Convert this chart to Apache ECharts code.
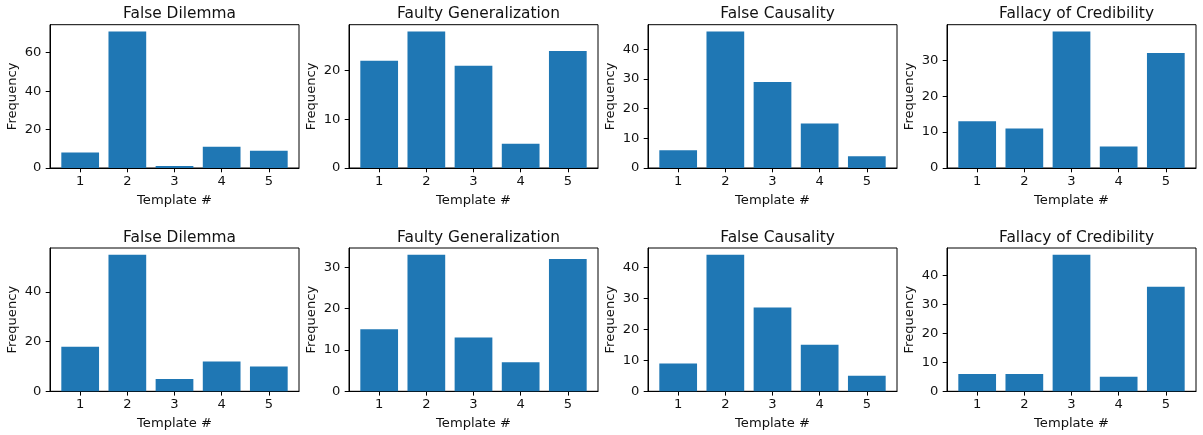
<!DOCTYPE html>
<html>
<head>
<meta charset="utf-8">
<script src="https://cdn.jsdelivr.net/npm/echarts@6/dist/echarts.min.js"></script>
<style>
html,body{margin:0;padding:0;background:#fff;}
#chart{width:1203px;height:435px;}
</style>
</head>
<body>
<div id="chart"></div>
<script>
// ---- data ----
var templates = [1, 2, 3, 4, 5];
var titles = ["False Dilemma", "Faulty Generalization", "False Causality", "Fallacy of Credibility"];
var topFalseDilemma = [8, 71, 1, 11, 9];
var topFaultyGeneralization = [22, 28, 21, 5, 24];
var topFalseCausality = [6, 46, 29, 15, 4];
var topFallacyCredibility = [13, 11, 38, 6, 32];
var bottomFalseDilemma = [18, 55, 5, 12, 10];
var bottomFaultyGeneralization = [15, 33, 13, 7, 32];
var bottomFalseCausality = [9, 44, 27, 15, 5];
var bottomFallacyCredibility = [6, 6, 47, 5, 36];
var yTicksTop = [[0, 20, 40, 60], [0, 10, 20], [0, 10, 20, 30, 40], [0, 10, 20, 30]];
var yTicksBottom = [[0, 20, 40], [0, 10, 20, 30], [0, 10, 20, 30, 40], [0, 10, 20, 30, 40]];
var xLabel = "Template #";
var yLabel = "Frequency";

var panels = [
  {title: titles[0], values: topFalseDilemma, ticks: yTicksTop[0], row: 0, col: 0},
  {title: titles[1], values: topFaultyGeneralization, ticks: yTicksTop[1], row: 0, col: 1},
  {title: titles[2], values: topFalseCausality, ticks: yTicksTop[2], row: 0, col: 2},
  {title: titles[3], values: topFallacyCredibility, ticks: yTicksTop[3], row: 0, col: 3},
  {title: titles[0], values: bottomFalseDilemma, ticks: yTicksBottom[0], row: 1, col: 0},
  {title: titles[1], values: bottomFaultyGeneralization, ticks: yTicksBottom[1], row: 1, col: 1},
  {title: titles[2], values: bottomFalseCausality, ticks: yTicksBottom[2], row: 1, col: 2},
  {title: titles[3], values: bottomFallacyCredibility, ticks: yTicksBottom[3], row: 1, col: 3}
];

var FONT = "DejaVu Sans";
var TXT = "#111";
var gridLefts = [50, 349, 648, 947];
var gridTops = [24.7, 248];
var GW = 249, GH = 143.3;
var FS = 13.1, TFS = 15.4;

var option = {
  animation: false,
  backgroundColor: "#fff",
  title: [], grid: [], xAxis: [], yAxis: [], series: []
};

panels.forEach(function (p, i) {
  var left = gridLefts[p.col], top = gridTops[p.row];
  var maxV = Math.max.apply(null, p.values);
  option.title.push({
    text: p.title,
    left: left + GW / 2,
    top: top - 23,
    textAlign: "center",
    textStyle: {fontFamily: FONT, fontSize: TFS, fontWeight: "normal", color: TXT}
  });
  option.grid.push({
    left: left, top: top, width: GW, height: GH,
    show: true, borderColor: "#000", borderWidth: 1, backgroundColor: "transparent",
    containLabel: false
  });
  option.xAxis.push({
    type: "value", gridIndex: i, min: 0.36, max: 5.64,
    name: xLabel, nameLocation: "middle", nameGap: 26,
    nameTextStyle: {fontFamily: FONT, fontSize: FS, color: TXT},
    axisLine: {show: true, lineStyle: {color: "#000", width: 1}},
    axisTick: {show: true, length: 4.3, lineStyle: {color: "#000"}, customValues: templates},
    axisLabel: {show: true, margin: 7, fontFamily: FONT, fontSize: FS, color: TXT, customValues: templates},
    splitLine: {show: false}
  });
  option.yAxis.push({
    type: "value", gridIndex: i, min: 0, max: maxV * 1.05,
    name: yLabel, nameLocation: "middle", nameGap: 31,
    nameTextStyle: {fontFamily: FONT, fontSize: FS, color: TXT},
    axisLine: {show: true, lineStyle: {color: "#000", width: 1}},
    axisTick: {show: true, length: 4.3, lineStyle: {color: "#000"}, customValues: p.ticks},
    axisLabel: {show: true, margin: 8.6, fontFamily: FONT, fontSize: FS, color: TXT, customValues: p.ticks},
    splitLine: {show: false}
  });
  option.series.push({
    type: "bar", xAxisIndex: i, yAxisIndex: i,
    barWidth: "80%",
    itemStyle: {color: "#1f77b4"},
    data: templates.map(function (t, k) { return [t, p.values[k]]; })
  });
});

var chart = echarts.init(document.getElementById("chart"), null, {renderer: "canvas"});
chart.setOption(option);
</script>
</body>
</html>
